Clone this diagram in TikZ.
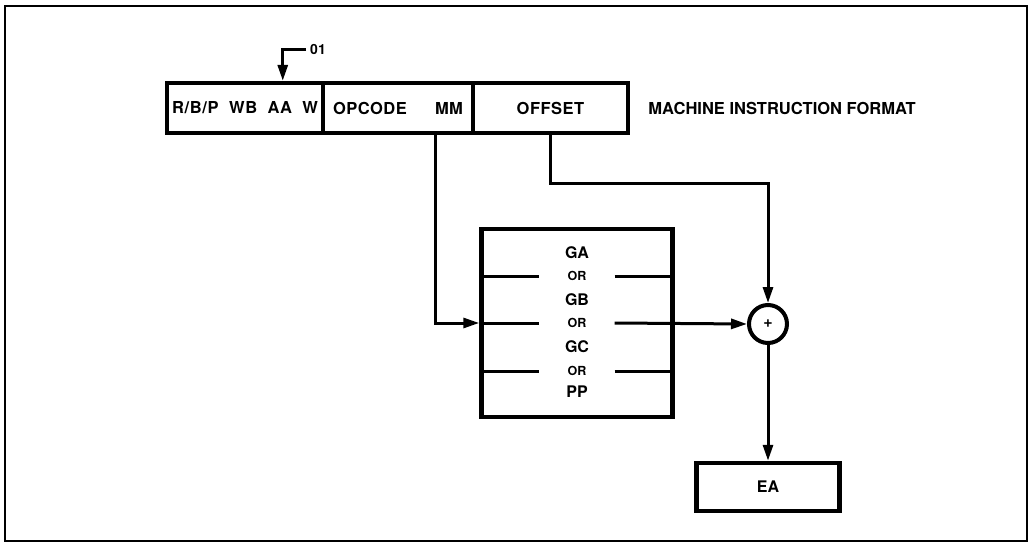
\documentclass[tikz,border=0pt]{standalone}
\usepackage{fontspec}
\setmainfont{TeX Gyre Heros}
\usetikzlibrary{arrows.meta,positioning,calc}
\tikzstyle{arrow} = [line width=3pt, -{Triangle[length=16pt,width=10pt]}]
\tikzstyle{wire} = [line width=3pt]
\tikzstyle{field} = [draw, line width=4.5pt, minimum height=50pt, inner sep=0pt, font=\fontsize{16.5}{18}\selectfont\bfseries]
\tikzstyle{regname} = [inner sep=0pt, font=\fontsize{16}{18}\selectfont\bfseries]
\tikzstyle{ortext} = [inner sep=0pt, minimum width=75pt, font=\fontsize{12.5}{14}\selectfont\bfseries]

\begin{document}
\begin{tikzpicture}[x=1pt, y=-1pt, font=\bfseries]
                \useasboundingbox (0,0) rectangle (1029,546);
                \draw[line width=1.8pt] (5,6) rectangle (1027,541);
                \node[field, minimum width=156pt] (rbp) at (245,108) {\makebox[146pt]{\addfontfeatures{LetterSpace=4}R/B/P\hfill WB\hfill AA\hfill W}};
                \node[field, minimum width=150pt, right=-4.5pt of rbp] (opcode) {\makebox[130pt]{\addfontfeatures{LetterSpace=3}OPCODE\hfill MM}};
                \node[field, minimum width=155pt, right=-4.5pt of opcode] (offset) {\addfontfeatures{LetterSpace=3}OFFSET};
                \node[inner sep=0pt, font=\fontsize{16.5}{18}\selectfont\bfseries, right=18pt of offset] (title) {MACHINE INSTRUCTION FORMAT};
                \node[inner sep=0pt, font=\fontsize{14}{16}\selectfont\bfseries] (l01) at (318,49) {01};
                \coordinate (tap) at ($(rbp.north west)+(118,0)$);
                \draw[arrow] ($(l01.west)+(-4,0)$) -| (tap);
                \node[draw, line width=4.5pt, minimum width=191pt, minimum height=188pt] (regs) at (577,323) {};
                \node[regname] (ga) at (577,253) {GA};
                \node[ortext] (or1) at (577,276) {OR};
                \node[regname] (gb) at (577,300) {GB};
                \node[ortext] (or2) at (577,323) {OR};
                \node[regname] (gc) at (577,347) {GC};
                \node[ortext] (or3) at (577,371) {OR};
                \node[regname] (pp) at (577,392) {PP};
                \draw[wire] (regs.west |- or1.west) -- (or1.west) (or1.east) -- (regs.east |- or1.east);
                \draw[wire] (regs.west |- or2.west) -- (or2.west);
                \draw[wire] (regs.west |- or3.west) -- (or3.west) (or3.east) -- (regs.east |- or3.east);
                \node[draw, circle, line width=4pt, minimum size=38pt, inner sep=0pt, font=\fontsize{16}{18}\selectfont\bfseries] (sum) at (768,324) {+};
                \node[draw, line width=4.5pt, minimum width=143pt, minimum height=48pt, font=\fontsize{16}{18}\selectfont\bfseries] (ea) at (768,487) {EA};
                \draw[arrow] ($(opcode.south)+(37,0)$) |- (regs.west);
                \draw[arrow] (offset.south) -- ++(0,48) -| (sum.north);
                \draw[arrow] (or2.east) -- (sum.west);
                \draw[arrow] (sum.south) -- (ea.north);
            \end{tikzpicture}
\end{document}
